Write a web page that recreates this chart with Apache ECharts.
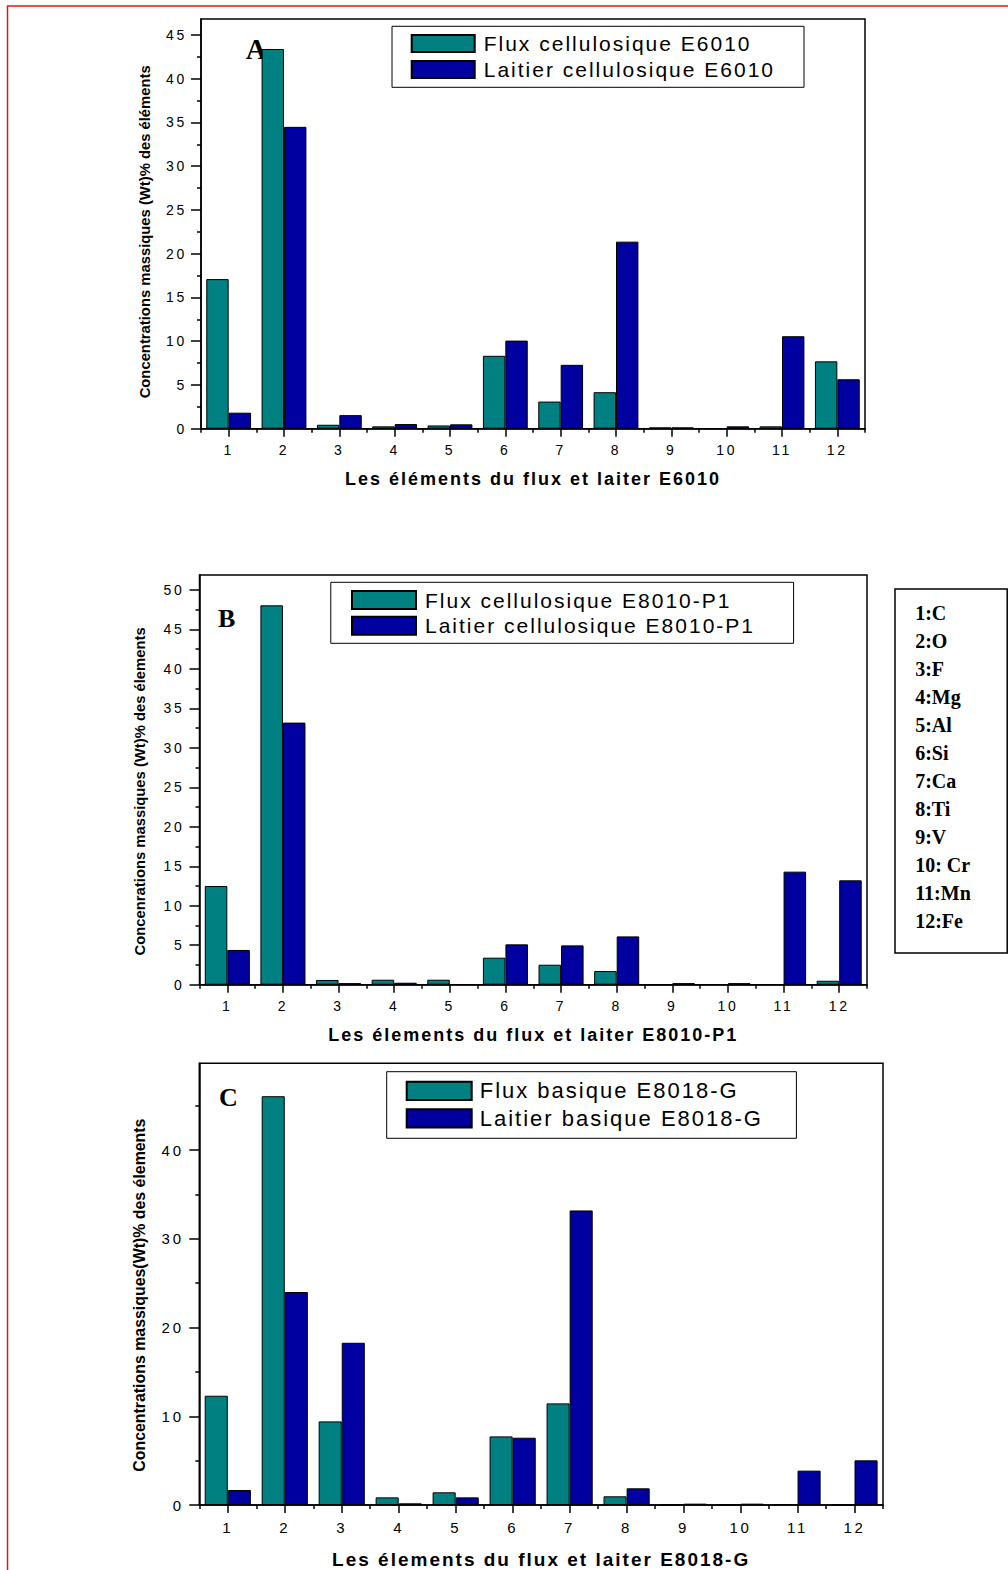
<!DOCTYPE html>
<html>
<head>
<meta charset="utf-8">
<script src="https://cdn.jsdelivr.net/npm/echarts@6/dist/echarts.min.js"></script>
<style>
  html, body { margin: 0; padding: 0; background: #fff; overflow: hidden; }
  #chart { width: 1008px; height: 1570px; }
  /* spaced lettering for tick labels, axis titles and legend entries */
  #chart text[style*="14px"], #chart text[style*="15px"] { letter-spacing: 2.7px; }
  #chart text[style*="18px"], #chart text[style*="19px"] { letter-spacing: 2px; }
  #chart text[style*="21px"], #chart text[style*="22px"] { letter-spacing: 2px; }
</style>
</head>
<body>
<div id="chart"></div>
<script>
// Element index shown on the x axes (1..12)
const categories = ['1', '2', '3', '4', '5', '6', '7', '8', '9', '10', '11', '12'];
// Key of element numbers
const elementKey = ['1:C', '2:O', '3:F', '4:Mg', '5:Al', '6:Si', '7:Ca', '8:Ti', '9:V', '10: Cr', '11:Mn', '12:Fe'];

// Mass concentrations (wt %), electrode E6010
const fluxE6010    = [17.1, 43.4, 0.45, 0.27, 0.37, 8.33, 3.1, 4.17, 0.15, 0.03, 0.27, 7.7];
const laitierE6010 = [1.83, 34.5, 1.55, 0.53, 0.5, 10.07, 7.3, 21.38, 0.15, 0.27, 10.57, 5.65];
// Electrode E8010-P1
const fluxE8010    = [12.5, 48.06, 0.6, 0.63, 0.63, 3.42, 2.53, 1.73, 0.03, 0.05, 0.05, 0.5];
const laitierE8010 = [4.4, 33.2, 0.2, 0.25, 0.05, 5.11, 4.98, 6.12, 0.2, 0.2, 14.32, 13.22];
// Electrode E8018-G
const fluxE8018    = [12.31, 46.06, 9.42, 0.86, 1.43, 7.73, 11.45, 0.98, 0.05, 0.05, 0.1, 0.05];
const laitierE8018 = [1.69, 24.0, 18.28, 0.19, 0.86, 7.58, 33.19, 1.88, 0.15, 0.15, 3.87, 5.03];

// Y tick values per panel
const majorTicksA = [0, 5, 10, 15, 20, 25, 30, 35, 40, 45];
const minorTicksA = [2.5, 7.5, 12.5, 17.5, 22.5, 27.5, 32.5, 37.5, 42.5];
const majorTicksB = [0, 5, 10, 15, 20, 25, 30, 35, 40, 45, 50];
const minorTicksB = [2.5, 7.5, 12.5, 17.5, 22.5, 27.5, 32.5, 37.5, 42.5, 47.5];
const majorTicksC = [0, 10, 20, 30, 40];
const minorTicksC = [5, 15, 25, 35, 45];

const TEAL = '#008080';
const NAVY = '#0000A0';
const SANS = 'Liberation Sans';
const SERIF = 'Liberation Serif';
const INK = { color: '#000', width: 1.5 };

const panels = [
  {
    letter: 'A', letterPos: [245.7, 49], letterSize: 29,
    grid: { left: 201, top: 19, width: 664, height: 409.7 },
    max: 46.83, majors: majorTicksA, minors: minorTicksA,
    tickSize: 14, yLabelMargin: 14, xLabelMargin: 14,
    yName: 'Concentrations massiques (Wt)% des éléments', yNameSize: 14.8, yNameGap: 49, yNameShift: 8,
    xName: 'Les éléments du flux et laiter E6010', xNameSize: 18, xNameGap: 41,
    names: ['Flux cellulosique E6010', 'Laitier cellulosique E6010'],
    values: [fluxE6010, laitierE6010],
    legend: { left: 392, top: 26.3, itemWidth: 63, itemHeight: 17, itemGap: 5,
              padding: [6.7, 20.3, 7.3, 18.7], fontSize: 21, textWidth: 300, textPad: 4 }
  },
  {
    letter: 'B', letterPos: [218, 618], letterSize: 26,
    grid: { left: 199.5, top: 575, width: 667.5, height: 409.7 },
    max: 51.9, majors: majorTicksB, minors: minorTicksB,
    tickSize: 14, yLabelMargin: 15, xLabelMargin: 14,
    yName: 'Concenrations massiques (Wt)% des élements', yNameSize: 14.8, yNameGap: 52, yNameShift: 11.5,
    xName: 'Les élements du flux et laiter E8010-P1', xNameSize: 18, xNameGap: 41.5,
    names: ['Flux cellulosique E8010-P1', 'Laitier cellulosique E8010-P1'],
    values: [fluxE8010, laitierE8010],
    legend: { left: 330.8, top: 582.3, itemWidth: 64, itemHeight: 18, itemGap: 4.7,
              padding: [7.2, 18.6, 7.1, 20.2], fontSize: 21, textWidth: 350, textPad: 4 }
  },
  {
    letter: 'C', letterPos: [219, 1097], letterSize: 26,
    grid: { left: 199.3, top: 1063.3, width: 683.7, height: 441.7 },
    max: 49.77, majors: majorTicksC, minors: minorTicksC,
    tickSize: 15, yLabelMargin: 15.6, xLabelMargin: 15,
    yName: 'Concentrations massiques(Wt)% des élements', yNameSize: 15.9, yNameGap: 52, yNameShift: 11,
    xName: 'Les élements du flux et laiter E8018-G', xNameSize: 19, xNameGap: 44.5,
    names: ['Flux basique E8018-G', 'Laitier basique E8018-G'],
    values: [fluxE8018, laitierE8018],
    legend: { left: 386.7, top: 1071.7, itemWidth: 65, itemHeight: 18.3, itemGap: 5.6,
              padding: [8.15, 16.7, 8.85, 19], fontSize: 22, textWidth: 300, textPad: 3 }
  }
];

const option = {
  backgroundColor: '#fff',
  animation: false,
  grid: [], xAxis: [], yAxis: [], series: [], legend: [], graphic: []
};

panels.forEach((p, i) => {
  option.grid.push(Object.assign({
    show: true, borderColor: '#000', borderWidth: 1.5,
    backgroundColor: 'transparent', containLabel: false, outerBoundsMode: 'none'
  }, p.grid));

  // category axis with labelled ticks at element centres
  option.xAxis.push({
    gridIndex: i, type: 'category', data: categories, position: 'bottom', boundaryGap: true,
    axisLine: { show: true, onZero: false, lineStyle: INK },
    axisTick: { show: true, alignWithLabel: true, interval: 0, length: 8, inside: false, lineStyle: INK },
    axisLabel: { show: true, interval: 0, margin: p.xLabelMargin, color: '#000',
                 fontFamily: SANS, fontSize: p.tickSize },
    splitLine: { show: false },
    name: p.xName, nameLocation: 'middle', nameGap: p.xNameGap,
    nameTextStyle: { color: '#000', fontFamily: SANS, fontWeight: 'bold', fontSize: p.xNameSize }
  });
  // short ticks between elements
  option.xAxis.push({
    gridIndex: i, type: 'category', data: categories, position: 'bottom', boundaryGap: true,
    axisLine: { show: false },
    axisTick: { show: true, alignWithLabel: false, interval: 0, length: 4, inside: false, lineStyle: INK },
    axisLabel: { show: false }, splitLine: { show: false }
  });

  option.yAxis.push({
    gridIndex: i, type: 'value', min: 0, max: p.max, position: 'left',
    axisLine: { show: true, onZero: false, lineStyle: INK },
    axisTick: { show: true, inside: false, length: 10, customValues: p.majors, lineStyle: INK },
    axisLabel: { show: true, customValues: p.majors, margin: p.yLabelMargin, color: '#000',
                 fontFamily: SANS, fontSize: p.tickSize },
    splitLine: { show: false },
    name: p.yName, nameLocation: 'middle', nameGap: p.yNameGap, nameRotate: 90,
    nameTextStyle: { color: '#000', fontFamily: SANS, fontWeight: 'bold', fontSize: p.yNameSize,
                     padding: [0, p.yNameShift * 2, 0, 0] }
  });
  option.yAxis.push({
    gridIndex: i, type: 'value', min: 0, max: p.max, position: 'left', offset: 0,
    axisLine: { show: false },
    axisTick: { show: true, inside: false, length: 4, customValues: p.minors, lineStyle: INK },
    axisLabel: { show: false }, splitLine: { show: false }
  });

  [TEAL, NAVY].forEach((color, k) => {
    option.series.push({
      type: 'bar', name: p.names[k], xAxisIndex: i * 2, yAxisIndex: i * 2,
      data: p.values[k], barGap: '0%', barCategoryGap: '19%',
      itemStyle: { color: color, borderColor: '#000', borderWidth: 1 },
      emphasis: { disabled: true }, silent: true
    });
  });

  const L = p.legend;
  option.legend.push({
    data: p.names, orient: 'vertical', left: L.left, top: L.top,
    itemWidth: L.itemWidth, itemHeight: L.itemHeight, itemGap: L.itemGap,
    padding: L.padding, icon: 'rect', selectedMode: false,
    borderColor: '#000', borderWidth: 1, backgroundColor: '#fff',
    textStyle: { color: '#000', fontFamily: SANS, fontSize: L.fontSize, lineHeight: L.itemHeight,
                 width: L.textWidth, padding: [0, 0, 0, L.textPad] }
  });

  option.graphic.push({
    type: 'text', x: p.letterPos[0], y: p.letterPos[1], silent: true,
    style: { text: p.letter, fill: '#000', fontFamily: SERIF, fontWeight: 'bold', fontSize: p.letterSize,
             align: 'left', verticalAlign: 'middle', textAlign: 'left', textVerticalAlign: 'middle' }
  });
});

// element key box at the right of panel B
option.graphic.push({
  type: 'rect', silent: true,
  shape: { x: 895, y: 589, width: 112.2, height: 364 },
  style: { fill: '#fff', stroke: '#000', lineWidth: 1.5 }
});
option.graphic.push({
  type: 'text', x: 915.2, y: 598.8, silent: true,
  style: { text: elementKey.join('\n'), fill: '#000', fontFamily: SERIF, fontWeight: 'bold',
           fontSize: 20, lineHeight: 28, align: 'left', verticalAlign: 'top',
           textAlign: 'left', textVerticalAlign: 'top' }
});
// page frame
option.graphic.push({
  type: 'rect', silent: true, z: 100,
  shape: { x: 7.5, y: 6, width: 1200, height: 1800 },
  style: { fill: 'none', stroke: '#dd1a1a', lineWidth: 1.5 }
});

const chart = echarts.init(document.getElementById('chart'), null, { renderer: 'svg' });
chart.setOption(option);
</script>
</body>
</html>
